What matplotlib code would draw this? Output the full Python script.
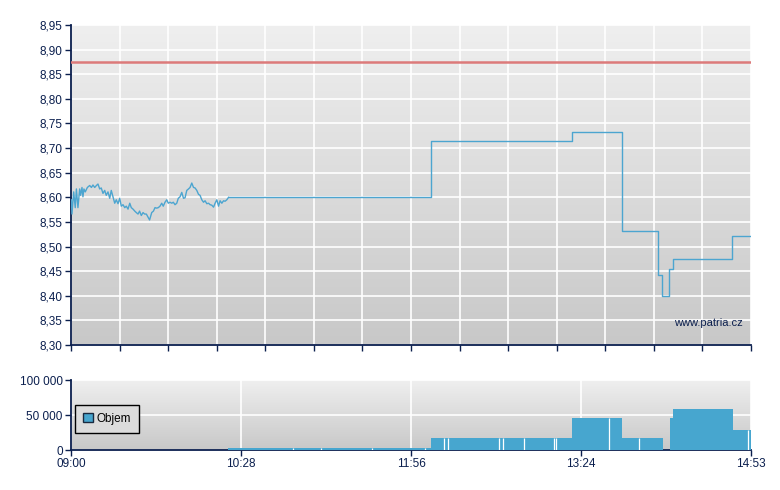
import numpy as np
import matplotlib
matplotlib.use("Agg")
import matplotlib.pyplot as plt
from matplotlib.colors import LinearSegmentedColormap
from matplotlib.patches import Patch

# minutes after 09:00 and prices, morning ticks (linear)
tick_minutes = [0.2, 0.5, 1.4, 2.2, 2.8, 3.6, 4.5, 5.0, 5.7, 6.2, 6.7, 7.4, 8.5, 9.7,
                10.6, 11.4, 12.3, 13.2, 14.0, 14.9, 15.7, 16.6, 17.5, 18.3, 19.2,
                20.1, 20.9, 21.8, 22.7, 23.5, 24.4, 25.3, 26.1, 27.0, 27.9, 28.7,
                29.6, 30.5, 31.3, 32.2, 33.1, 33.9, 34.8, 35.6, 36.5, 37.4, 38.2,
                39.1, 40.8, 41.9, 42.8, 43.6, 44.5, 45.3, 46.2, 47.1, 47.9, 48.8,
                49.7, 50.5, 51.4, 52.3, 53.1, 54.0, 54.9, 55.7, 56.6, 57.5, 58.4,
                59.2, 60.1, 61.0, 61.8, 62.7, 63.6, 64.4, 65.3, 66.2, 67.0, 67.9,
                68.8, 69.6, 70.5, 71.4, 72.2, 73.1, 74.0, 74.8, 75.7, 76.6, 77.4,
                78.3, 79.2, 80.0, 80.9, 81.8]
tick_prices = [8.595, 8.566, 8.611, 8.579, 8.617, 8.579, 8.617, 8.604, 8.620, 8.601,
               8.617, 8.611, 8.620, 8.624, 8.620, 8.625, 8.620, 8.624, 8.627, 8.617,
               8.619, 8.608, 8.614, 8.604, 8.611, 8.598, 8.614, 8.601, 8.588, 8.595,
               8.587, 8.598, 8.582, 8.585, 8.579, 8.582, 8.576, 8.588, 8.579, 8.576,
               8.572, 8.569, 8.566, 8.572, 8.563, 8.569, 8.566, 8.566, 8.554, 8.569,
               8.572, 8.579, 8.578, 8.579, 8.582, 8.588, 8.582, 8.590, 8.595, 8.588,
               8.590, 8.588, 8.590, 8.585, 8.588, 8.598, 8.601, 8.610, 8.598, 8.599,
               8.614, 8.617, 8.620, 8.629, 8.620, 8.619, 8.614, 8.606, 8.604, 8.595,
               8.590, 8.593, 8.587, 8.588, 8.585, 8.584, 8.580, 8.588, 8.595, 8.582,
               8.593, 8.588, 8.593, 8.592, 8.595, 8.600]

# later trades (step)
step_minutes = [81.8, 187.0, 260.1, 286.1, 304.8, 306.8, 310.3, 312.4, 343.1, 353.0]
step_prices = [8.600, 8.715, 8.732, 8.531, 8.442, 8.400, 8.454, 8.474, 8.522, 8.522]

ref_price = 8.874

# volume segments: start, end (minutes), volume
vol_start = [81.7, 115.4, 129.6, 156.1, 183.8, 186.9, 193.6, 195.6, 222.2, 224.3,
             235.2, 250.6, 251.6, 260.1, 279.3, 286.1, 294.9, 311.0, 312.6, 343.5, 351.3]
vol_end = [115.4, 129.6, 156.1, 183.8, 186.9, 193.6, 195.6, 222.2, 224.3, 235.2,
           250.6, 251.6, 260.1, 279.3, 286.1, 294.9, 307.3, 312.6, 343.5, 351.3, 353.0]
volumes = [2500, 2500, 2500, 2500, 2500, 17000, 17000, 17000, 17000, 17000,
           17000, 17000, 17000, 45200, 45200, 17000, 17000, 45200, 58600, 28600, 28600]

x_labels = ["09:00", "10:28", "11:56", "13:24", "14:53"]
price_ticks = np.arange(8.30, 8.951, 0.05)
vol_ticks = [0, 50000, 100000]
vol_labels = ["0", "50 000", "100 000"]

navy = "#0b1f4e"
line_blue = "#4ca5d0"
bar_blue = "#47a6cf"
x_end = 353.0

plt.rcParams['font.family'] = ['Liberation Sans', 'DejaVu Sans']

fig = plt.figure(figsize=(7.8, 4.9), dpi=100)
ax = fig.add_axes([71 / 780, 1 - 345 / 490, 680 / 780, 320 / 490])
axv = fig.add_axes([71 / 780, 1 - 450 / 490, 680 / 780, 70 / 490])

grad = LinearSegmentedColormap.from_list("g", ["#c8c8c8", "#efefef"])
for a in (ax, axv):
    a.imshow(np.linspace(0, 1, 256)[:, None], extent=[0, 1, 0, 1], origin="lower",
             transform=a.transAxes, aspect="auto", cmap=grad, zorder=-2)
    for s in ("top", "right"):
        a.spines[s].set_visible(False)
    for s in ("left", "bottom"):
        a.spines[s].set_color(navy)
        a.spines[s].set_linewidth(1.3)
    a.tick_params(colors=navy, labelcolor=navy, labelsize=8.5, length=4, width=1, pad=2)
    a.set_axisbelow(True)

# price panel
ax.axhline(ref_price, color="#dc7a7a", lw=1.8, zorder=3)
ax.plot(tick_minutes, tick_prices, color=line_blue, lw=1.0, zorder=4)
ax.plot(step_minutes, step_prices, color=line_blue, lw=1.0, drawstyle="steps-post", zorder=4)
ax.set_xlim(0, x_end)
ax.set_ylim(8.30, 8.95)
ax.set_yticks(price_ticks)
ax.set_yticklabels([f"{v:.2f}".replace(".", ",") for v in price_ticks])
ax.set_xticks(np.linspace(0, x_end, 15))
ax.set_xticklabels([])
ax.grid(True, color="white", lw=1.2)
ax.text(0.937, 0.069, "www.patria.cz", transform=ax.transAxes, ha="center", va="center",
        fontsize=8, color=navy)

# volume panel
widths = [e - s for s, e in zip(vol_start, vol_end)]
axv.bar(vol_start, volumes, width=widths, align="edge", color=bar_blue, linewidth=0, zorder=3)
for i in range(1, len(vol_start)):
    if vol_start[i] == vol_end[i - 1] and volumes[i] == volumes[i - 1]:
        axv.vlines(vol_start[i], 0, volumes[i], color="white", lw=0.9, zorder=4)
axv.set_xlim(0, x_end)
axv.set_ylim(0, 100000)
axv.set_yticks(vol_ticks)
axv.set_yticklabels(vol_labels)
axv.set_xticks(np.linspace(0, x_end, 5))
axv.set_xticklabels(x_labels)
axv.grid(True, color="white", lw=1.2)

leg = axv.legend(handles=[Patch(facecolor=bar_blue, edgecolor="#1a2a40", label="Objem")],
                 loc="lower left", bbox_to_anchor=(0.006, 0.24), borderaxespad=0,
                 fontsize=8.5, fancybox=False, handlelength=0.8, handleheight=0.8,
                 handletextpad=0.3, borderpad=0.7)
leg.get_frame().set_edgecolor("black")
leg.get_frame().set_facecolor("#dcdcdc")
leg.get_frame().set_alpha(1)
leg.get_frame().set_linewidth(1)

fig.savefig("out.png", dpi=100)
